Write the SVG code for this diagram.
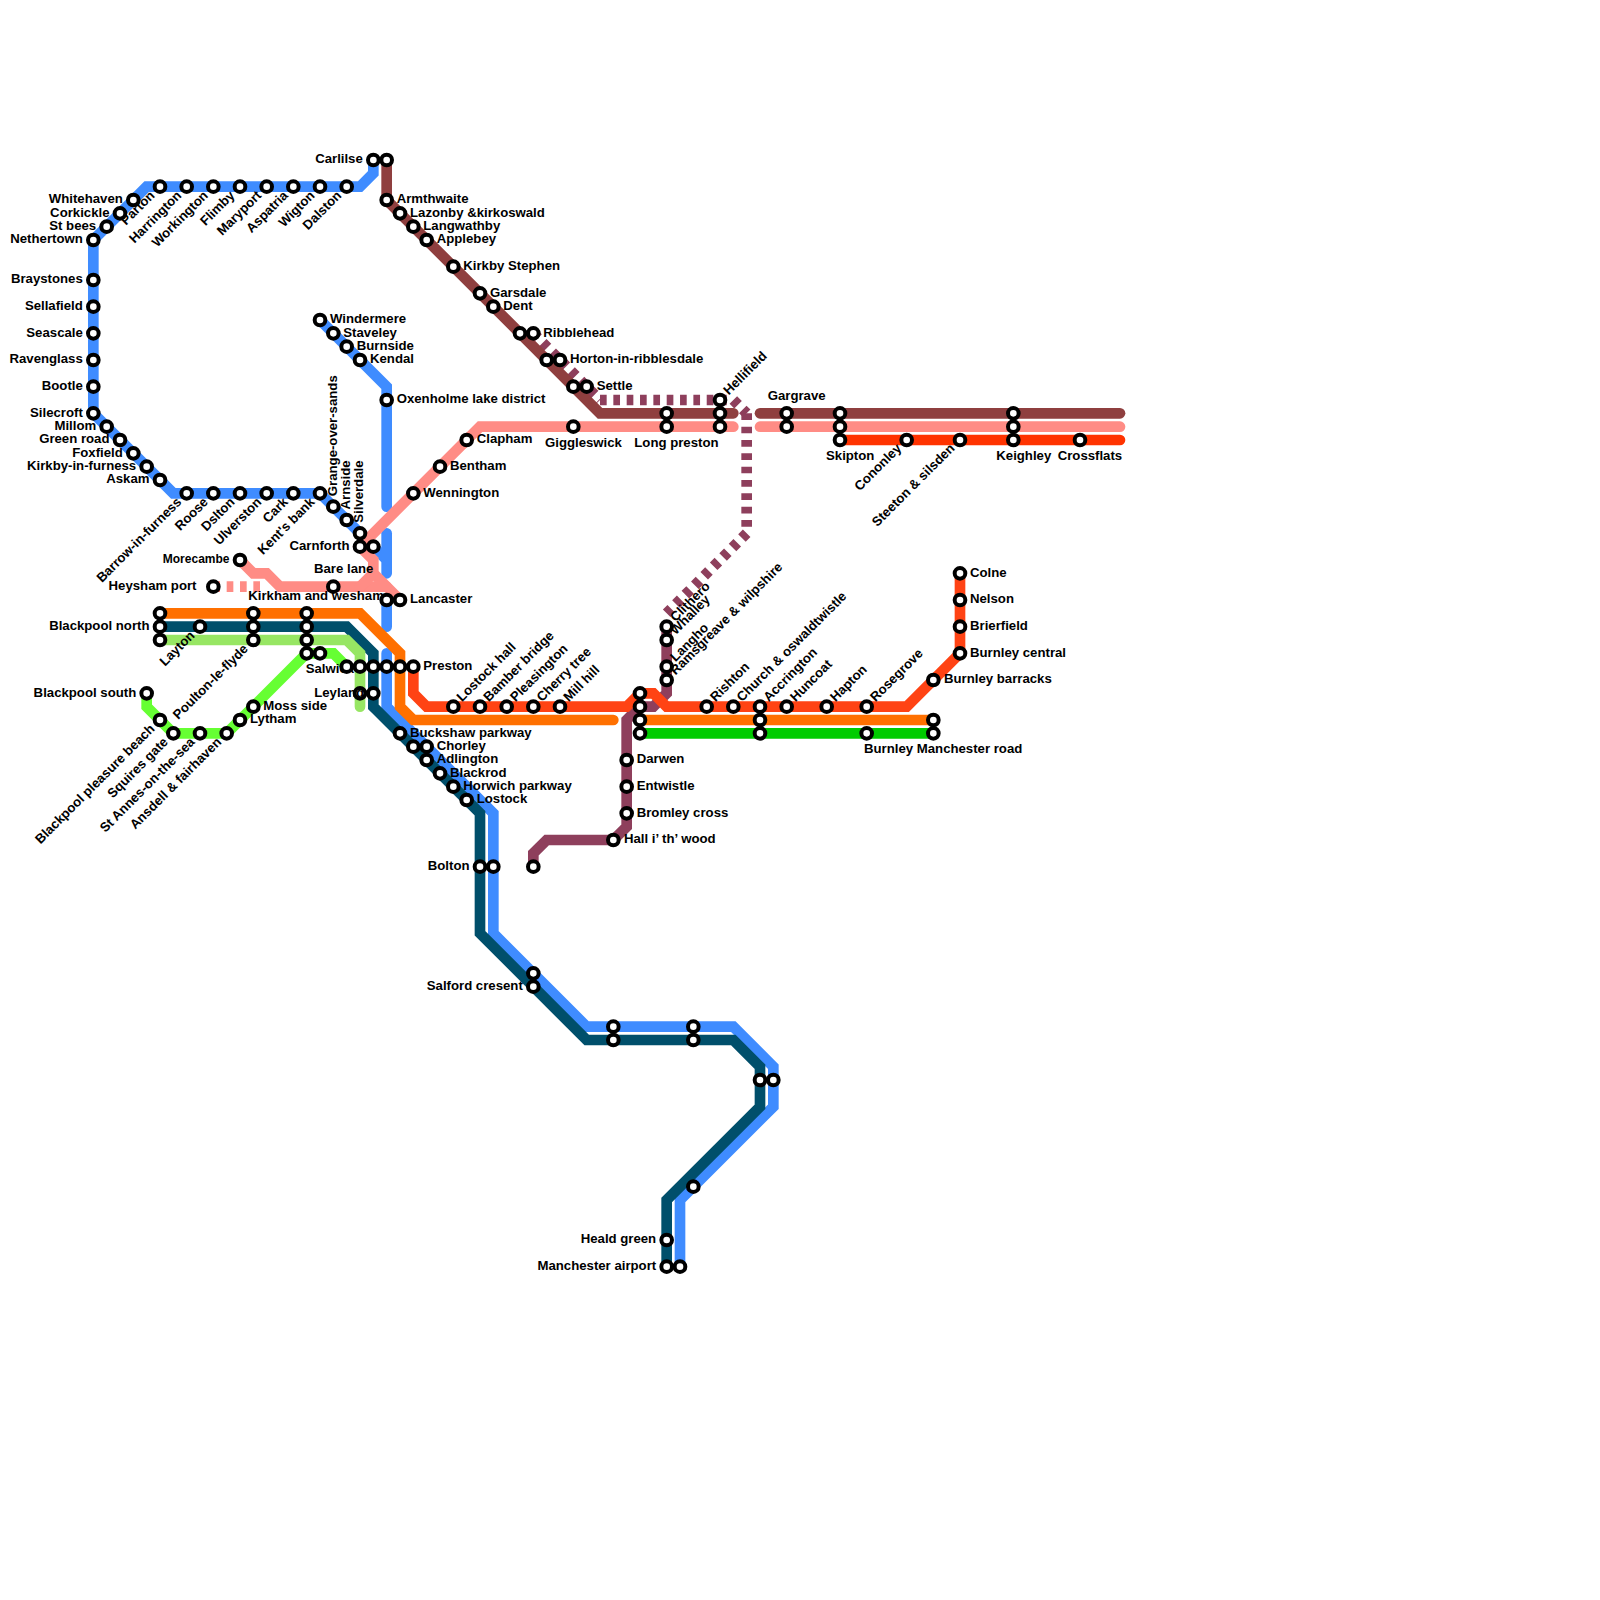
<svg xmlns="http://www.w3.org/2000/svg" width="1600" height="1600" viewBox="0 0 1600 1600">
<style>
text{font-family:"Liberation Sans",Arial,sans-serif;font-size:13.2px;font-weight:700;fill:#000}
.e{text-anchor:end}.m{text-anchor:middle}
circle{fill:#fff;stroke:#000;stroke-width:4}
#connectors path{fill:none;stroke-width:10.67;stroke-linecap:round;stroke-linejoin:miter;stroke-miterlimit:10}
#connectors path.d{stroke-linecap:butt;stroke-dasharray:6.67 6.67}
.blue{stroke:#3f8cff}.teal{stroke:#004f6b}.brown{stroke:#8f3f3f}.pink{stroke:#ff8c85}.orange{stroke:#ff7000}.lime{stroke:#97e663}.bright{stroke:#66ff33}.red{stroke:#ff4314}.scarlet{stroke:#ff3300}.green{stroke:#00cc00}.plum{stroke:#8e3f5c}
</style>
<rect width="1600" height="1600" fill="#fff"/>
<g id="connectors">
<path class="blue" d="M373.33 160V173.33L360 186.67H146.67L93.33 240V413.33L173.33 493.33H320L386.67 560V573.33"/>
<path class="blue" d="M386.67 560V533.33"/>
<path class="blue" d="M320 320L386.67 386.67V506.67"/>
<path class="blue" d="M386.67 600V626.67"/>
<path class="blue" d="M386.67 653.33V706.67L493.33 813.33V933.33L586.67 1026.67H733.33L773.33 1066.67V1106.67L680 1200V1266.67"/>
<path class="teal" d="M160 626.67H346.67L373.33 653.33V706.67L480 813.33V933.33L586.67 1040H733.33L760 1066.67V1106.67L666.67 1200V1266.67"/>
<path class="lime" d="M160 640H346.67L360 653.33V706.67"/>
<path class="bright" d="M146.67 693.33V706.67L173.33 733.33H226.67L306.67 653.33H333.33L346.67 666.67"/>
<path class="orange" d="M160 613.33H360L400 653.33V706.67L413.33 720H613.33"/>
<path class="orange" d="M640 720H933.33"/>
<path class="green" d="M640 733.33H933.33"/>
<path class="plum d" d="M533.33 333.33L600 400"/>
<path class="plum d" d="M600 400H733.33"/>
<path class="plum d" d="M733.33 400L746.67 413.33"/>
<path class="plum d" d="M746.67 413.33V533.33"/>
<path class="plum d" d="M746.67 533.33L666.67 613.33"/>
<path class="pink d" d="M213.33 586.67H260"/>
<path class="plum" d="M533.33 866.67V853.33L546.67 840H613.33L626.67 826.67V720L640 706.67H653.33L666.67 693.33V626.67"/>
<path class="pink" d="M733.33 426.67H480L360 546.67L373.33 560V573.33L400 600"/>
<path class="pink" d="M240 560L253.33 573.33H266.67L280 586.67H386.67"/>
<path class="pink" d="M360 586.67L373.33 573.33"/>
<path class="pink" d="M760 426.67H1120"/>
<path class="brown" d="M386.67 160V200L600 413.33H733.33"/>
<path class="brown" d="M760 413.33H1120"/>
<path class="scarlet" d="M840 440H1120"/>
<path class="red" d="M413.33 666.67V693.33L426.67 706.67H626.67L640 693.33H653.33L666.67 706.67H906.67L960 653.33V573.33"/>
</g>
<g id="nodes">
<g id="n-carlilse"><circle cx="373.33" cy="160" r="5.33"/><text class="e" x="362.8" y="163.2">Carlilse</text></g>
<g id="n-carlilse2"><circle cx="386.67" cy="160" r="5.33"/></g>
<g id="n-dalston"><circle cx="346.67" cy="186.67" r="5.33"/><text class="e" x="342.2" y="196.2" transform="rotate(-45 342.2 196.2)">Dalston</text></g>
<g id="n-wigton"><circle cx="320" cy="186.67" r="5.33"/><text class="e" x="315.5" y="196.2" transform="rotate(-45 315.5 196.2)">Wigton</text></g>
<g id="n-aspatria"><circle cx="293.33" cy="186.67" r="5.33"/><text class="e" x="288.8" y="196.2" transform="rotate(-45 288.8 196.2)">Aspatria</text></g>
<g id="n-maryport"><circle cx="266.67" cy="186.67" r="5.33"/><text class="e" x="262.2" y="196.2" transform="rotate(-45 262.2 196.2)">Maryport</text></g>
<g id="n-flimby"><circle cx="240" cy="186.67" r="5.33"/><text class="e" x="235.5" y="196.2" transform="rotate(-45 235.5 196.2)">Flimby</text></g>
<g id="n-workington"><circle cx="213.33" cy="186.67" r="5.33"/><text class="e" x="208.8" y="196.2" transform="rotate(-45 208.8 196.2)">Workington</text></g>
<g id="n-harrington"><circle cx="186.67" cy="186.67" r="5.33"/><text class="e" x="182.2" y="196.2" transform="rotate(-45 182.2 196.2)">Harrington</text></g>
<g id="n-parton"><circle cx="160" cy="186.67" r="5.33"/><text class="e" x="155.5" y="196.2" transform="rotate(-45 155.5 196.2)">Parton</text></g>
<g id="n-whitehaven"><circle cx="133.33" cy="200" r="5.33"/><text class="e" x="122.8" y="203.2">Whitehaven</text></g>
<g id="n-corkickle"><circle cx="120" cy="213.33" r="5.33"/><text class="e" x="109.5" y="216.5">Corkickle</text></g>
<g id="n-stbees"><circle cx="106.67" cy="226.67" r="5.33"/><text class="e" x="96.2" y="229.9">St bees</text></g>
<g id="n-nethertown"><circle cx="93.33" cy="240" r="5.33"/><text class="e" x="82.8" y="243.2">Nethertown</text></g>
<g id="n-braystones"><circle cx="93.33" cy="280" r="5.33"/><text class="e" x="82.8" y="283.2">Braystones</text></g>
<g id="n-sellafield"><circle cx="93.33" cy="306.67" r="5.33"/><text class="e" x="82.8" y="309.9">Sellafield</text></g>
<g id="n-seascale"><circle cx="93.33" cy="333.33" r="5.33"/><text class="e" x="82.8" y="336.5">Seascale</text></g>
<g id="n-ravenglass"><circle cx="93.33" cy="360" r="5.33"/><text class="e" x="82.8" y="363.2">Ravenglass</text></g>
<g id="n-bootle"><circle cx="93.33" cy="386.67" r="5.33"/><text class="e" x="82.8" y="389.9">Bootle</text></g>
<g id="n-silecroft"><circle cx="93.33" cy="413.33" r="5.33"/><text class="e" x="82.8" y="416.5">Silecroft</text></g>
<g id="n-millom"><circle cx="106.67" cy="426.67" r="5.33"/><text class="e" x="96.2" y="429.9">Millom</text></g>
<g id="n-greenroad"><circle cx="120" cy="440" r="5.33"/><text class="e" x="109.5" y="443.2">Green road</text></g>
<g id="n-foxfield"><circle cx="133.33" cy="453.33" r="5.33"/><text class="e" x="122.8" y="456.5">Foxfield</text></g>
<g id="n-kirkby"><circle cx="146.67" cy="466.67" r="5.33"/><text class="e" x="136.2" y="469.9">Kirkby-in-furness</text></g>
<g id="n-askam"><circle cx="160" cy="480" r="5.33"/><text class="e" x="149.5" y="483.2">Askam</text></g>
<g id="n-barrow"><circle cx="186.67" cy="493.33" r="5.33"/><text class="e" x="182.2" y="502.8" transform="rotate(-45 182.2 502.8)">Barrow-in-furness</text></g>
<g id="n-roose"><circle cx="213.33" cy="493.33" r="5.33"/><text class="e" x="208.8" y="502.8" transform="rotate(-45 208.8 502.8)">Roose</text></g>
<g id="n-dslton"><circle cx="240" cy="493.33" r="5.33"/><text class="e" x="235.5" y="502.8" transform="rotate(-45 235.5 502.8)">Dslton</text></g>
<g id="n-ulverston"><circle cx="266.67" cy="493.33" r="5.33"/><text class="e" x="262.2" y="502.8" transform="rotate(-45 262.2 502.8)">Ulverston</text></g>
<g id="n-cark"><circle cx="293.33" cy="493.33" r="5.33"/><text class="e" x="288.8" y="502.8" transform="rotate(-45 288.8 502.8)">Cark</text></g>
<g id="n-kentsbank"><circle cx="320" cy="493.33" r="5.33"/><text class="e" x="315.5" y="502.8" transform="rotate(-45 315.5 502.8)">Kent's bank</text></g>
<g id="n-grange"><circle cx="333.33" cy="506.67" r="5.33"/><text x="336.8" y="496.2" transform="rotate(-90 336.8 496.2)">Grange-over-sands</text></g>
<g id="n-arnside"><circle cx="346.67" cy="520" r="5.33"/><text x="350.2" y="509.5" transform="rotate(-90 350.2 509.5)">Arnside</text></g>
<g id="n-silverdale"><circle cx="360" cy="533.33" r="5.33"/><text x="363.5" y="522.8" transform="rotate(-90 363.5 522.8)">Silverdale</text></g>
<g id="n-carnforth"><circle cx="360" cy="546.67" r="5.33"/><text class="e" x="349.5" y="549.9">Carnforth</text></g>
<g id="n-carnforth2"><circle cx="373.33" cy="546.67" r="5.33"/></g>
<g id="n-windermere"><circle cx="320" cy="320" r="5.33"/><text x="330" y="323.2">Windermere</text></g>
<g id="n-staveley"><circle cx="333.33" cy="333.33" r="5.33"/><text x="343.3" y="336.5">Staveley</text></g>
<g id="n-burnside"><circle cx="346.67" cy="346.67" r="5.33"/><text x="356.7" y="349.9">Burnside</text></g>
<g id="n-kendal"><circle cx="360" cy="360" r="5.33"/><text x="370" y="363.2">Kendal</text></g>
<g id="n-oxenholme"><circle cx="386.67" cy="400" r="5.33"/><text x="396.7" y="403.2">Oxenholme lake district</text></g>
<g id="n-armthwaite"><circle cx="386.67" cy="200" r="5.33"/><text x="396.7" y="203.2">Armthwaite</text></g>
<g id="n-lazonby"><circle cx="400" cy="213.33" r="5.33"/><text x="410" y="216.5">Lazonby &amp;kirkoswald</text></g>
<g id="n-langwathby"><circle cx="413.33" cy="226.67" r="5.33"/><text x="423.3" y="229.9">Langwathby</text></g>
<g id="n-applebey"><circle cx="426.67" cy="240" r="5.33"/><text x="436.7" y="243.2">Applebey</text></g>
<g id="n-kirkbystephen"><circle cx="453.33" cy="266.67" r="5.33"/><text x="463.3" y="269.9">Kirkby Stephen</text></g>
<g id="n-garsdale"><circle cx="480" cy="293.33" r="5.33"/><text x="490" y="296.5">Garsdale</text></g>
<g id="n-dent"><circle cx="493.33" cy="306.67" r="5.33"/><text x="503.3" y="309.9">Dent</text></g>
<g id="n-ribblehead0"><circle cx="520" cy="333.33" r="5.33"/></g>
<g id="n-ribblehead"><circle cx="533.33" cy="333.33" r="5.33"/><text x="543.3" y="336.5">Ribblehead</text></g>
<g id="n-horton0"><circle cx="546.67" cy="360" r="5.33"/></g>
<g id="n-horton"><circle cx="560" cy="360" r="5.33"/><text x="570" y="363.2">Horton-in-ribblesdale</text></g>
<g id="n-settle0"><circle cx="573.33" cy="386.67" r="5.33"/></g>
<g id="n-settle"><circle cx="586.67" cy="386.67" r="5.33"/><text x="596.7" y="389.9">Settle</text></g>
<g id="n-clapham"><circle cx="466.67" cy="440" r="5.33"/><text x="476.7" y="443.2">Clapham</text></g>
<g id="n-bentham"><circle cx="440" cy="466.67" r="5.33"/><text x="450" y="469.9">Bentham</text></g>
<g id="n-wennington"><circle cx="413.33" cy="493.33" r="5.33"/><text x="423.3" y="496.5">Wennington</text></g>
<g id="n-giggleswick"><circle cx="573.33" cy="426.67" r="5.33"/><text x="545" y="446.5">Giggleswick</text></g>
<g id="n-longpreston0"><circle cx="666.67" cy="413.33" r="5.33"/></g>
<g id="n-longpreston"><circle cx="666.67" cy="426.67" r="5.33"/><text x="634.3" y="446.5">Long preston</text></g>
<g id="n-hellifield"><circle cx="720" cy="400" r="5.33"/><text x="728.8" y="395.6" transform="rotate(-45 728.8 395.6)">Hellifield</text></g>
<g id="n-hellifield2"><circle cx="720" cy="413.33" r="5.33"/></g>
<g id="n-hellifield3"><circle cx="720" cy="426.67" r="5.33"/></g>
<g id="n-gargrave"><circle cx="786.67" cy="413.33" r="5.33"/><text x="767.7" y="399.7">Gargrave</text></g>
<g id="n-gargrave2"><circle cx="786.67" cy="426.67" r="5.33"/></g>
<g id="n-skipton1"><circle cx="840" cy="413.33" r="5.33"/></g>
<g id="n-skipton2"><circle cx="840" cy="426.67" r="5.33"/></g>
<g id="n-skipton"><circle cx="840" cy="440" r="5.33"/><text x="826" y="459.7">Skipton</text></g>
<g id="n-cononley"><circle cx="906.67" cy="440" r="5.33"/><text class="e" x="902.2" y="449" transform="rotate(-45 902.2 449)">Cononley</text></g>
<g id="n-steeton"><circle cx="960" cy="440" r="5.33"/><text class="e" x="955.5" y="449" transform="rotate(-45 955.5 449)">Steeton &amp; silsden</text></g>
<g id="n-keighley1"><circle cx="1013.33" cy="413.33" r="5.33"/></g>
<g id="n-keighley2"><circle cx="1013.33" cy="426.67" r="5.33"/></g>
<g id="n-keighley"><circle cx="1013.33" cy="440" r="5.33"/><text x="996.3" y="459.7">Keighley</text></g>
<g id="n-crossflats"><circle cx="1080" cy="440" r="5.33"/><text x="1057.7" y="459.7">Crossflats</text></g>
<g id="n-morecambe"><circle cx="240" cy="560" r="5.33"/><text class="e" x="229.5" y="563.2" textLength="66.7" lengthAdjust="spacingAndGlyphs">Morecambe</text></g>
<g id="n-heysham"><circle cx="213.33" cy="586.67" r="5.33"/><text class="e" x="196.5" y="589.9">Heysham port</text></g>
<g id="n-barelane"><circle cx="333.33" cy="586.67" r="5.33"/><text x="314" y="572.7">Bare lane</text></g>
<g id="n-blackpoolnorth0"><circle cx="160" cy="613.33" r="5.33"/></g>
<g id="n-blackpoolnorth"><circle cx="160" cy="626.67" r="5.33"/><text class="e" x="149.5" y="629.9">Blackpool north</text></g>
<g id="n-blackpoolnorth2"><circle cx="160" cy="640" r="5.33"/></g>
<g id="n-layton"><circle cx="200" cy="626.67" r="5.33"/><text class="e" x="195.5" y="636.2" transform="rotate(-45 195.5 636.2)">Layton</text></g>
<g id="n-poulton0"><circle cx="253.33" cy="613.33" r="5.33"/></g>
<g id="n-poulton1"><circle cx="253.33" cy="626.67" r="5.33"/></g>
<g id="n-poulton"><circle cx="253.33" cy="640" r="5.33"/><text class="e" x="248.8" y="649.5" transform="rotate(-45 248.8 649.5)">Poulton-le-flyde</text></g>
<g id="n-kirkham"><circle cx="306.67" cy="613.33" r="5.33"/><text x="248.3" y="599.7">Kirkham and wesham</text></g>
<g id="n-kirkham2"><circle cx="306.67" cy="626.67" r="5.33"/></g>
<g id="n-kirkham3"><circle cx="306.67" cy="640" r="5.33"/></g>
<g id="n-kirkham4"><circle cx="306.67" cy="653.33" r="5.33"/></g>
<g id="n-salwick"><circle cx="320" cy="653.33" r="5.33"/><text x="305.7" y="672.7">Salwick</text></g>
<g id="n-preston1"><circle cx="346.67" cy="666.67" r="5.33"/></g>
<g id="n-preston2"><circle cx="360" cy="666.67" r="5.33"/></g>
<g id="n-preston3"><circle cx="373.33" cy="666.67" r="5.33"/></g>
<g id="n-preston4"><circle cx="386.67" cy="666.67" r="5.33"/></g>
<g id="n-preston5"><circle cx="400" cy="666.67" r="5.33"/></g>
<g id="n-preston"><circle cx="413.33" cy="666.67" r="5.33"/><text x="423.3" y="669.9">Preston</text></g>
<g id="n-lancaster0"><circle cx="386.67" cy="600" r="5.33"/></g>
<g id="n-lancaster"><circle cx="400" cy="600" r="5.33"/><text x="410" y="603.2">Lancaster</text></g>
<g id="n-leyland0"><circle cx="360" cy="693.33" r="5.33"/></g>
<g id="n-leyland"><circle cx="373.33" cy="693.33" r="5.33"/><text class="e" x="364" y="696.5">Leyland</text></g>
<g id="n-blackpoolsouth"><circle cx="146.67" cy="693.33" r="5.33"/><text class="e" x="136.2" y="696.5">Blackpool south</text></g>
<g id="n-pleasurebeach"><circle cx="160" cy="720" r="5.33"/><text class="e" x="155.5" y="729.5" transform="rotate(-45 155.5 729.5)">Blackpool pleasure beach</text></g>
<g id="n-squires"><circle cx="173.33" cy="733.33" r="5.33"/><text class="e" x="168.8" y="742.8" transform="rotate(-45 168.8 742.8)">Squires gate</text></g>
<g id="n-stannes"><circle cx="200" cy="733.33" r="5.33"/><text class="e" x="195.5" y="742.8" transform="rotate(-45 195.5 742.8)">St Annes-on-the-sea</text></g>
<g id="n-ansdell"><circle cx="226.67" cy="733.33" r="5.33"/><text class="e" x="222.2" y="742.8" transform="rotate(-45 222.2 742.8)">Ansdell &amp; fairhaven</text></g>
<g id="n-lytham"><circle cx="240" cy="720" r="5.33"/><text x="250" y="723.2">Lytham</text></g>
<g id="n-mossside"><circle cx="253.33" cy="706.67" r="5.33"/><text x="263.3" y="709.9">Moss side</text></g>
<g id="n-buckshaw"><circle cx="400" cy="733.33" r="5.33"/><text x="410" y="736.5">Buckshaw parkway</text></g>
<g id="n-chorley0"><circle cx="413.33" cy="746.67" r="5.33"/></g>
<g id="n-chorley"><circle cx="426.67" cy="746.67" r="5.33"/><text x="436.7" y="749.9">Chorley</text></g>
<g id="n-adlington"><circle cx="426.67" cy="760" r="5.33"/><text x="436.7" y="763.2">Adlington</text></g>
<g id="n-blackrod"><circle cx="440" cy="773.33" r="5.33"/><text x="450" y="776.5">Blackrod</text></g>
<g id="n-horwich"><circle cx="453.33" cy="786.67" r="5.33"/><text x="463.3" y="789.9">Horwich parkway</text></g>
<g id="n-lostock"><circle cx="466.67" cy="800" r="5.33"/><text x="476.7" y="803.2">Lostock</text></g>
<g id="n-bolton"><circle cx="480" cy="866.67" r="5.33"/><text class="e" x="469.5" y="869.9">Bolton</text></g>
<g id="n-bolton2"><circle cx="493.33" cy="866.67" r="5.33"/></g>
<g id="n-salford0"><circle cx="533.33" cy="973.33" r="5.33"/></g>
<g id="n-salford"><circle cx="533.33" cy="986.67" r="5.33"/><text class="e" x="522.8" y="989.9">Salford cresent</text></g>
<g id="n-s1"><circle cx="613.33" cy="1026.67" r="5.33"/></g>
<g id="n-s2"><circle cx="613.33" cy="1040" r="5.33"/></g>
<g id="n-s3"><circle cx="693.33" cy="1026.67" r="5.33"/></g>
<g id="n-s4"><circle cx="693.33" cy="1040" r="5.33"/></g>
<g id="n-s5"><circle cx="760" cy="1080" r="5.33"/></g>
<g id="n-s6"><circle cx="773.33" cy="1080" r="5.33"/></g>
<g id="n-s7"><circle cx="693.33" cy="1186.67" r="5.33"/></g>
<g id="n-healdgreen"><circle cx="666.67" cy="1240" r="5.33"/><text class="e" x="656.2" y="1243.2">Heald green</text></g>
<g id="n-manchester"><circle cx="666.67" cy="1266.67" r="5.33"/><text class="e" x="656.2" y="1269.9">Manchester airport</text></g>
<g id="n-manchester2"><circle cx="680" cy="1266.67" r="5.33"/></g>
<g id="n-lostockhall"><circle cx="453.33" cy="706.67" r="5.33"/><text x="462.1" y="702.3" transform="rotate(-45 462.1 702.3)">Lostock hall</text></g>
<g id="n-bamber"><circle cx="480" cy="706.67" r="5.33"/><text x="488.8" y="702.3" transform="rotate(-45 488.8 702.3)">Bamber bridge</text></g>
<g id="n-pleasington"><circle cx="506.67" cy="706.67" r="5.33"/><text x="515.5" y="702.3" transform="rotate(-45 515.5 702.3)">Pleasington</text></g>
<g id="n-cherrytree"><circle cx="533.33" cy="706.67" r="5.33"/><text x="542.1" y="702.3" transform="rotate(-45 542.1 702.3)">Cherry tree</text></g>
<g id="n-millhill"><circle cx="560" cy="706.67" r="5.33"/><text x="568.8" y="702.3" transform="rotate(-45 568.8 702.3)">Mill hill</text></g>
<g id="n-hall"><circle cx="613.33" cy="840" r="5.33"/><text x="624" y="843.2">Hall i’ th’ wood</text></g>
<g id="n-end"><circle cx="533.33" cy="866.67" r="5.33"/></g>
<g id="n-bromley"><circle cx="626.67" cy="813.33" r="5.33"/><text x="636.7" y="816.5">Bromley cross</text></g>
<g id="n-entwistle"><circle cx="626.67" cy="786.67" r="5.33"/><text x="636.7" y="789.9">Entwistle</text></g>
<g id="n-darwen"><circle cx="626.67" cy="760" r="5.33"/><text x="636.7" y="763.2">Darwen</text></g>
<g id="n-b1"><circle cx="640" cy="693.33" r="5.33"/></g>
<g id="n-b2"><circle cx="640" cy="706.67" r="5.33"/></g>
<g id="n-b3"><circle cx="640" cy="720" r="5.33"/></g>
<g id="n-b4"><circle cx="640" cy="733.33" r="5.33"/></g>
<g id="n-clithero"><circle cx="666.67" cy="626.67" r="5.33"/><text x="675.5" y="622.3" transform="rotate(-45 675.5 622.3)">Clithero</text></g>
<g id="n-whalley"><circle cx="666.67" cy="640" r="5.33"/><text x="675.5" y="635.6" transform="rotate(-45 675.5 635.6)">Whalley</text></g>
<g id="n-langho"><circle cx="666.67" cy="666.67" r="5.33"/><text x="675.5" y="662.3" transform="rotate(-45 675.5 662.3)">Langho</text></g>
<g id="n-ramsgreave"><circle cx="666.67" cy="680" r="5.33"/><text x="675.5" y="675.6" transform="rotate(-45 675.5 675.6)">Ramsgreave &amp; wilpshire</text></g>
<g id="n-rishton"><circle cx="706.67" cy="706.67" r="5.33"/><text x="715.5" y="702.3" transform="rotate(-45 715.5 702.3)">Rishton</text></g>
<g id="n-church"><circle cx="733.33" cy="706.67" r="5.33"/><text x="742.1" y="702.3" transform="rotate(-45 742.1 702.3)">Church &amp; oswaldtwistle</text></g>
<g id="n-accrington"><circle cx="760" cy="706.67" r="5.33"/><text x="768.8" y="702.3" transform="rotate(-45 768.8 702.3)">Accrington</text></g>
<g id="n-a2"><circle cx="760" cy="720" r="5.33"/></g>
<g id="n-a3"><circle cx="760" cy="733.33" r="5.33"/></g>
<g id="n-huncoat"><circle cx="786.67" cy="706.67" r="5.33"/><text x="795.5" y="702.3" transform="rotate(-45 795.5 702.3)">Huncoat</text></g>
<g id="n-hapton"><circle cx="826.67" cy="706.67" r="5.33"/><text x="835.5" y="702.3" transform="rotate(-45 835.5 702.3)">Hapton</text></g>
<g id="n-rosegrove"><circle cx="866.67" cy="706.67" r="5.33"/><text x="875.5" y="702.3" transform="rotate(-45 875.5 702.3)">Rosegrove</text></g>
<g id="n-r2"><circle cx="866.67" cy="733.33" r="5.33"/></g>
<g id="n-m1"><circle cx="933.33" cy="720" r="5.33"/></g>
<g id="n-burnleymanchester"><circle cx="933.33" cy="733.33" r="5.33"/><text x="864" y="753">Burnley Manchester road</text></g>
<g id="n-barracks"><circle cx="933.33" cy="680" r="5.33"/><text x="944" y="683.2">Burnley barracks</text></g>
<g id="n-central"><circle cx="960" cy="653.33" r="5.33"/><text x="970" y="656.5">Burnley central</text></g>
<g id="n-brierfield"><circle cx="960" cy="626.67" r="5.33"/><text x="970" y="629.9">Brierfield</text></g>
<g id="n-nelson"><circle cx="960" cy="600" r="5.33"/><text x="970" y="603.2">Nelson</text></g>
<g id="n-colne"><circle cx="960" cy="573.33" r="5.33"/><text x="970" y="576.5">Colne</text></g>
</g>
</svg>
